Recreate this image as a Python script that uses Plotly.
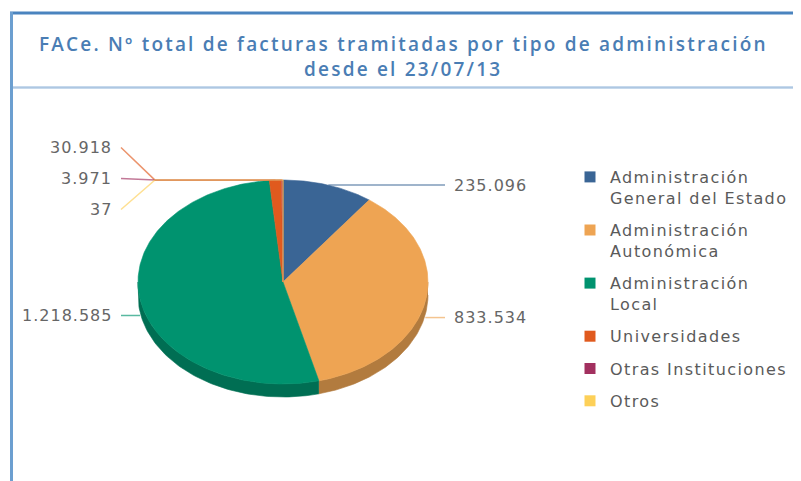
import numpy as np
import plotly.graph_objects as go

# ---------------- data ----------------
categories = [
    "Administración General del Estado",
    "Administración Autonómica",
    "Administración Local",
    "Universidades",
    "Otras Instituciones",
    "Otros",
]
values = [235096, 833534, 1218585, 30918, 3971, 37]
colors = ["#3a6595", "#eea453", "#00936f", "#e05a1e", "#a2305f", "#fdd058"]
title_lines = [
    "FACe. Nº total de facturas tramitadas por tipo de administración",
    "desde el 23/07/13",
]

# ---------------- style ----------------
W, H = 801, 481
OFF = 8  # page body margin: axis ranges are shifted so data units == page pixels
cx, cy, rx, ry, depth = 283, 282, 145, 102, 13
FONT = "DejaVu Sans"
LABEL_COLOR = "#666666"
TITLE_COLOR = "#4a7db4"


def fmt(v):
    return f"{v:,}".replace(",", ".")


def darker(hexc, f=0.75):
    h = hexc.lstrip("#")
    r, g, b = (int(h[i:i + 2], 16) for i in (0, 2, 4))
    return "#%02x%02x%02x" % (int(r * f), int(g * f), int(b * f))


def with_alpha(hexc, a):
    h = hexc.lstrip("#")
    r, g, b = (int(h[i:i + 2], 16) for i in (0, 2, 4))
    return f"rgba({r},{g},{b},{a})"


def pt(a_deg, dy=0.0):
    a = np.radians(a_deg)
    return cx + rx * np.sin(a), cy - ry * np.cos(a) + dy


def spaced(text, px):
    return f'<span style="letter-spacing:{px}px">{text}</span>'


def legend_name(name, px):
    if name.startswith("Administración "):
        return spaced("Administración", px) + "<br>" + spaced(name[len("Administración "):], px)
    return spaced(name, px)


total = float(sum(values))
bounds = np.concatenate([[0.0], np.cumsum(values) / total * 360.0])

fig = go.Figure()

# side walls (front half of the ellipse only)
for i, c in enumerate(colors):
    s, e = max(bounds[i], 90.0), min(bounds[i + 1], 270.0)
    if s < e:
        arc = np.linspace(s, e, 80)
        xt, yt = pt(arc)
        xb, yb = pt(arc[::-1], depth)
        fig.add_trace(go.Scatter(
            x=np.concatenate([xt, xb]), y=np.concatenate([yt, yb]),
            fill="toself", fillcolor=darker(c), mode="lines",
            line=dict(width=0.6, color=darker(c)), hoverinfo="skip",
            showlegend=False, legendgroup=categories[i]))

# top faces
for i, c in enumerate(colors):
    n = max(4, int((bounds[i + 1] - bounds[i]) * 1.5))
    arc = np.linspace(bounds[i], bounds[i + 1], n)
    xa, ya = pt(arc)
    fig.add_trace(go.Scatter(
        x=np.concatenate([[cx], xa, [cx]]), y=np.concatenate([[cy], ya, [cy]]),
        fill="toself", fillcolor=c, mode="lines",
        line=dict(width=0.6, color=c), name=categories[i],
        text=[f"{categories[i]}: {fmt(values[i])}"] * (n + 2),
        hoverinfo="text", showlegend=False, legendgroup=categories[i]))

# data labels with connectors
mids = (bounds[:-1] + bounds[1:]) / 2
anchors = []
for m in mids:
    x, y = pt(m)
    y_lab = y + depth + 3 if np.cos(np.radians(m)) < 0 else y
    side = 1 if np.sin(np.radians(m)) > 0.02 else -1
    anchors.append([x, y, y_lab, side])

# spread overlapping labels on each side
GAP = 31
for side in (1, -1):
    idx = [i for i in range(len(values)) if anchors[i][3] == side]
    groups = []
    for i in idx:
        if groups and abs(anchors[i][2] - anchors[groups[-1][-1]][2]) < GAP:
            groups[-1].append(i)
        else:
            groups.append([i])
    for g in groups:
        if len(g) > 1:
            mean = np.mean([anchors[i][2] for i in g]) - 1.5
            for k, i in enumerate(g):
                anchors[i].append(mean + (k - (len(g) - 1) / 2) * GAP)
        else:
            anchors[g[0]].append(anchors[g[0]][2])

for i, (x, y, y_lab, side, ly) in enumerate(anchors):
    end_x = cx + side * 162
    elbow_x = cx + side * 128
    elbow_x = max(elbow_x, x) if side == 1 else min(elbow_x, x)
    fig.add_trace(go.Scatter(
        x=[end_x, elbow_x, x], y=[ly, y_lab, y_lab], mode="lines",
        line=dict(color=with_alpha(colors[i], 0.65), width=1.5),
        hoverinfo="skip", showlegend=False, legendgroup=categories[i]))
    fig.add_annotation(
        x=end_x + side * 7, y=ly, xref="x", yref="y",
        text=spaced(fmt(values[i]), 1), showarrow=False,
        xanchor="left" if side == 1 else "right", yanchor="middle",
        font=dict(family=FONT, size=16, color=LABEL_COLOR))

# legend entries
for i, c in enumerate(colors):
    fig.add_trace(go.Scatter(
        x=[None], y=[None], mode="markers",
        marker=dict(symbol="square", size=11, color=c),
        name=legend_name(categories[i], 1.4),
        legendgroup=categories[i]))

# title
for k, line in enumerate(title_lines):
    fig.add_annotation(
        x=403, y=43.5 + k * 25, xref="x", yref="y",
        text=spaced(line, 2.2), showarrow=False,
        xanchor="center", yanchor="middle",
        font=dict(family="Open Sans", size=19, color=TITLE_COLOR, weight=600))

# frame
fig.add_shape(type="line", x0=10, x1=W + OFF, y0=13, y1=13, xref="x", yref="y",
              line=dict(color="#4a84bf", width=3))
fig.add_shape(type="line", x0=11.5, x1=11.5, y0=12, y1=H + OFF, xref="x", yref="y",
              line=dict(color="#6c9fd0", width=3))
fig.add_shape(type="line", x0=13, x1=W + OFF, y0=87.5, y1=87.5, xref="x", yref="y",
              line=dict(color="#c6d9ec", width=3))
fig.add_shape(type="line", x0=13, x1=W + OFF, y0=87.5, y1=87.5, xref="x", yref="y",
              line=dict(color="#aec7e2", width=1))

fig.update_layout(
    width=W, height=H,
    margin=dict(l=0, r=0, t=0, b=0),
    paper_bgcolor="white", plot_bgcolor="white",
    xaxis=dict(range=[OFF, W + OFF], visible=False, fixedrange=True),
    yaxis=dict(range=[H + OFF, OFF], visible=False, fixedrange=True),
    showlegend=True,
    legend=dict(
        x=(570 - OFF) / W, y=1 - (160 - OFF) / H, xanchor="left", yanchor="top",
        font=dict(family=FONT, size=16, color="#5a5a5a"),
        tracegroupgap=8.5, valign="top", bgcolor="rgba(0,0,0,0)",
    ),
)

fig.write_html("out.html")
